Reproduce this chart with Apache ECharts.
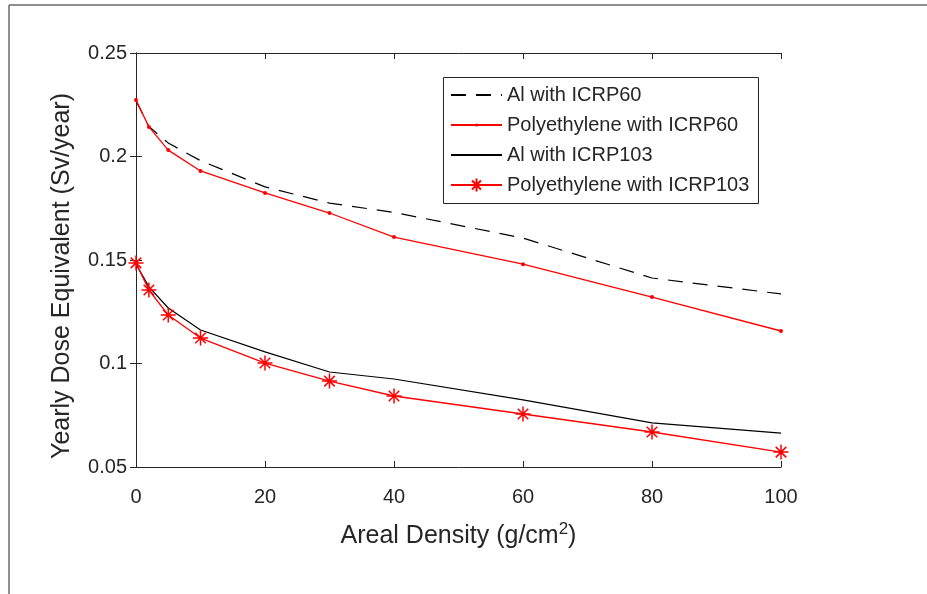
<!DOCTYPE html>
<html>
<head>
<meta charset="utf-8">
<script src="https://cdn.jsdelivr.net/npm/echarts@6/dist/echarts.min.js"></script>
<style>
html,body{margin:0;padding:0;background:#fff;}
#chart{width:927px;height:594px;}
</style>
</head>
<body>
<div id="chart"></div>
<script>
const xValues = [0, 2, 5, 10, 20, 30, 40, 60, 80, 100];
const alICRP60 = [0.227, 0.2145, 0.2065, 0.198, 0.1853, 0.1775, 0.173, 0.1606, 0.1413, 0.1336];
const polyICRP60 = [0.2273, 0.2143, 0.2031, 0.193, 0.1824, 0.1727, 0.1611, 0.148, 0.1321, 0.1157];
const alICRP103 = [0.148, 0.137, 0.1268, 0.1162, 0.1056, 0.0959, 0.0925, 0.0824, 0.0713, 0.0664];
const polyICRP103 = [0.1486, 0.1355, 0.1234, 0.1123, 0.1002, 0.0915, 0.0843, 0.0756, 0.0669, 0.0572];
const seriesNames = ['Al with ICRP60', 'Polyethylene with ICRP60', 'Al with ICRP103', 'Polyethylene with ICRP103'];
const xTicks = [0, 20, 40, 60, 80, 100];
const yTickLabels = ['0.05', '0.1', '0.15', '0.2', '0.25'];

const pair = (ys) => xValues.map((x, i) => [x, ys[i]]);
const axisColor = '#262626';
const FONT = 'Liberation Sans, Arial, sans-serif';
const asterisk = 'path://M0,-10L0,10M-10,0L10,0M-7,-7L7,7M-7,7L7,-7';
// small dot inside a larger invisible bounding box
const smallDot = 'path://M0,0L0,0M12,12L12,12M4.5,6A1.5,1.5,0,1,1,7.5,6A1.5,1.5,0,1,1,4.5,6Z';

const chart = echarts.init(document.getElementById('chart'), null, {renderer: 'canvas'});
const grid = {left: 136, top: 53, width: 645, height: 414, outerBoundsMode: 'none', containLabel: false};

const axisCommon = {
  axisLine: {show: true, lineStyle: {color: axisColor, width: 1}},
  axisTick: {show: true, inside: true, length: 6, lineStyle: {color: axisColor, width: 1}},
  splitLine: {show: false}
};
const hidden = {color: 'rgba(0,0,0,0)', borderWidth: 0, opacity: 0};

chart.setOption({
  animation: false,
  backgroundColor: '#fff',
  textStyle: {fontFamily: FONT},
  grid: grid,
  graphic: [
    {type: 'line', shape: {x1: 9, y1: 5, x2: 927, y2: 5}, style: {stroke: '#6a6a6a', lineWidth: 1.5}},
    {type: 'line', shape: {x1: 9, y1: 5, x2: 9, y2: 594}, style: {stroke: '#6a6a6a', lineWidth: 1.5}},
    {type: 'rect', shape: {x: 443.5, y: 77.5, width: 315, height: 126}, style: {fill: '#fff', stroke: axisColor, lineWidth: 1}, z: 10}
  ],
  legend: {
    data: [
      {name: seriesNames[0], itemStyle: hidden},
      {name: seriesNames[1]},
      {name: seriesNames[2], itemStyle: hidden},
      {name: seriesNames[3]}
    ],
    orient: 'vertical',
    left: 450,
    top: 85,
    padding: 0,
    itemWidth: 51,
    itemHeight: 16,
    itemGap: 10,
    z: 20,
    textStyle: {fontFamily: FONT, fontSize: 20, color: axisColor, lineHeight: 20}
  },
  xAxis: [
    Object.assign({}, axisCommon, {
      type: 'value', min: 0, max: 100, interval: 20, position: 'bottom',
      axisLabel: {show: true, color: axisColor, fontSize: 20, margin: 20, fontFamily: FONT,
        formatter: (v) => xTicks.includes(v) ? String(v) : ''},
      name: 'Areal Density (g/cm{sup|2})',
      nameLocation: 'middle',
      nameGap: 54,
      nameTextStyle: {color: axisColor, fontSize: 25, fontFamily: FONT,
        rich: {sup: {fontSize: 17, color: axisColor, fontFamily: FONT, padding: [0, 0, 14, 0]}}}
    }),
    Object.assign({}, axisCommon, {
      type: 'value', min: 0, max: 100, interval: 20, position: 'top',
      axisLabel: {show: false}
    })
  ],
  yAxis: [
    Object.assign({}, axisCommon, {
      type: 'value', min: 0.05, max: 0.25, interval: 0.05, position: 'left',
      axisLabel: {show: true, color: axisColor, fontSize: 20, margin: 9, fontFamily: FONT,
        formatter: (v) => { const i = Math.round((v - 0.05) / 0.05); return yTickLabels[i] || ''; }},
      name: 'Yearly Dose Equivalent (Sv/year)',
      nameLocation: 'middle',
      nameGap: 61,
      nameRotate: 90,
      nameTextStyle: {color: axisColor, fontSize: 25, fontFamily: FONT, padding: [0, 32, 0, 0]}
    }),
    Object.assign({}, axisCommon, {
      type: 'value', min: 0.05, max: 0.25, interval: 0.05, position: 'right',
      axisLabel: {show: false}
    })
  ],
  series: [
    {
      name: seriesNames[0], type: 'line', data: pair(alICRP60),
      symbol: 'none', color: '#000',
      lineStyle: {color: '#000', width: 1.2, type: [15, 10]},
      z: 3
    },
    {
      name: seriesNames[1], type: 'line', data: pair(polyICRP60),
      symbol: smallDot, symbolSize: 16, color: '#ff0000',
      itemStyle: {color: '#ff0000', borderWidth: 0},
      lineStyle: {color: '#ff0000', width: 1.3},
      z: 4
    },
    {
      name: seriesNames[2], type: 'line', data: pair(alICRP103),
      symbol: 'none', color: '#000',
      lineStyle: {color: '#000', width: 1.2},
      z: 3
    },
    {
      name: seriesNames[3], type: 'line', data: pair(polyICRP103),
      symbol: asterisk, symbolSize: 15, color: '#ff0000',
      itemStyle: {color: '#ff0000', borderColor: '#ff0000', borderWidth: 1.5},
      lineStyle: {color: '#ff0000', width: 1.3},
      z: 4
    }
  ]
});
</script>
</body>
</html>
